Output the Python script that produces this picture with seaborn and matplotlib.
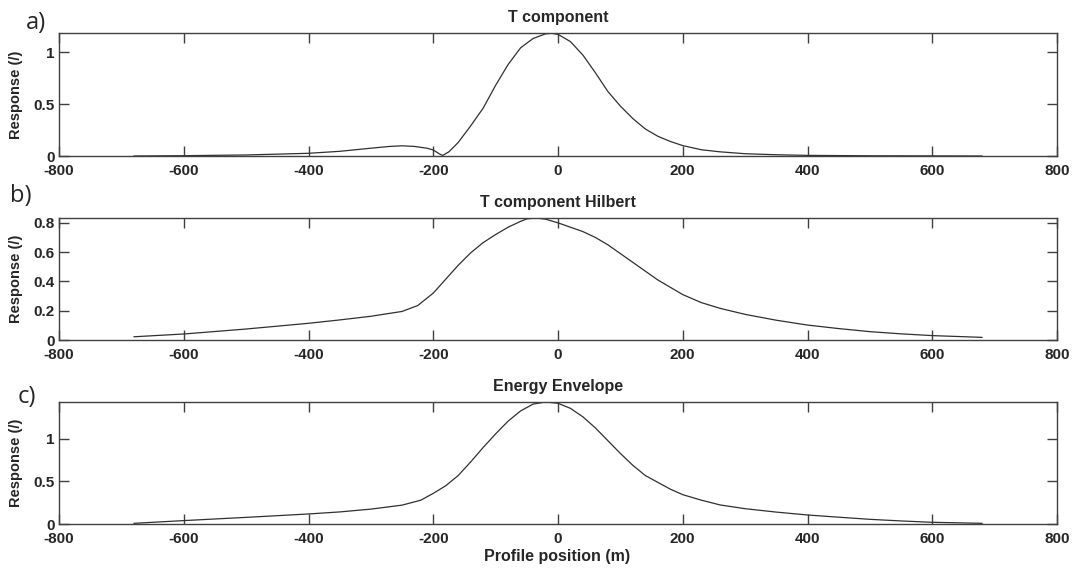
import matplotlib
matplotlib.use("Agg")
import matplotlib.pyplot as plt
import seaborn as sns
import numpy as np
from matplotlib.ticker import FuncFormatter

# ---------------- data ----------------
x_a = [-680, -600, -500, -400, -350, -300, -270, -250, -230, -210, -200, -190, -185,
       -175, -160, -140, -120, -100, -80, -60, -40, -20, -10, 0, 20, 40, 60, 80, 100,
       120, 140, 160, 180, 200, 230, 260, 300, 350, 400, 500, 600, 680]
y_a = [0.0, 0.003, 0.01, 0.026, 0.045, 0.075, 0.092, 0.098, 0.092, 0.075, 0.058, 0.02, 0.005,
       0.04, 0.13, 0.29, 0.46, 0.68, 0.88, 1.04, 1.13, 1.175, 1.18, 1.17, 1.10, 0.97, 0.80, 0.62, 0.48,
       0.36, 0.26, 0.19, 0.14, 0.10, 0.06, 0.04, 0.022, 0.012, 0.006, 0.002, 0.001, 0.0]

x_b = [-680, -600, -500, -400, -350, -300, -250, -225, -200, -180, -160, -140, -120, -100,
       -80, -60, -50, -35, -20, 0, 20, 40, 60, 80, 100, 120, 140, 160, 180, 200, 230,
       260, 300, 350, 400, 450, 500, 550, 600, 680]
y_b = [0.022, 0.041, 0.075, 0.114, 0.137, 0.162, 0.195, 0.235, 0.32, 0.415, 0.51, 0.595, 0.665, 0.72,
       0.77, 0.81, 0.827, 0.833, 0.825, 0.80, 0.77, 0.74, 0.70, 0.65, 0.59, 0.53, 0.47, 0.41, 0.36, 0.31, 0.255,
       0.216, 0.175, 0.135, 0.102, 0.078, 0.057, 0.042, 0.03, 0.018]

x_c = [-680, -600, -500, -400, -350, -300, -250, -220, -200, -180, -160, -140, -120, -100,
       -80, -60, -40, -20, 0, 20, 40, 60, 80, 100, 120, 140, 160, 180, 200, 230, 260,
       300, 350, 400, 450, 500, 550, 600, 680]
y_c = [0.008, 0.04, 0.078, 0.118, 0.142, 0.175, 0.222, 0.28, 0.36, 0.45, 0.57, 0.73, 0.90, 1.06,
       1.21, 1.33, 1.41, 1.435, 1.42, 1.36, 1.26, 1.13, 0.98, 0.83, 0.69, 0.57, 0.49, 0.41, 0.345, 0.28, 0.224,
       0.18, 0.14, 0.106, 0.08, 0.055, 0.036, 0.02, 0.008]

titles = ["T component", "T component Hilbert", "Energy Envelope"]
panel_tags = ["a)", "b)", "c)"]
x_ticks = [-800, -600, -400, -200, 0, 200, 400, 600, 800]
y_ticks = [[0, 0.5, 1], [0, 0.2, 0.4, 0.6, 0.8], [0, 0.5, 1]]
y_tops = [1.183, 0.833, 1.435]
y_label = "Response (/)"
x_label = "Profile position (m)"

# ---------------- style ----------------
sns.set_style("ticks")
plt.rcParams["font.family"] = ["Liberation Sans", "DejaVu Sans"]
plt.rcParams["font.weight"] = "bold"

W, H = 1073, 570
fig = plt.figure(figsize=(W / 100, H / 100), dpi=100)

boxes = [(33, 156), (218, 340), (402, 524)]
tag_pos = [(26, 23), (10, 196), (18, 397)]
left_px, right_px = 59, 1057
spine_col = "#404040"
line_col = "#303030"

series = [(x_a, y_a), (x_b, y_b), (x_c, y_c)]

fmt = FuncFormatter(lambda v, p: f"{v:g}")

for i, ((top, bot), (xs, ys)) in enumerate(zip(boxes, series)):
    ax = fig.add_axes([left_px / W, 1 - bot / H, (right_px - left_px) / W, (bot - top) / H])
    sns.lineplot(x=xs, y=ys, ax=ax, color=line_col, linewidth=0.9, sort=False)
    ax.set_xlim(-800, 800)
    ax.set_ylim(0, y_tops[i])
    ax.set_xticks(x_ticks)
    ax.set_yticks(y_ticks[i])
    ax.xaxis.set_major_formatter(fmt)
    ax.yaxis.set_major_formatter(fmt)
    ax.tick_params(direction="in", length=7, width=1, color=spine_col,
                   top=True, right=True, labelsize=11)
    ax.tick_params(axis="x", pad=5.5)
    ax.tick_params(axis="y", pad=3)
    for lab in ax.get_xticklabels() + ax.get_yticklabels():
        lab.set_fontweight("bold")
    for s in ax.spines.values():
        s.set_visible(True)
        s.set_color(spine_col)
        s.set_linewidth(1.0)
    ax.set_title(titles[i], fontsize=11.5, fontweight="bold", pad=8)
    ax.set_ylabel(y_label, fontsize=10.5, fontweight="bold")
    ax.yaxis.set_label_coords((23 - left_px) / (right_px - left_px), 0.5)
    ax.set_xlabel("")
    tx, ty = tag_pos[i]
    fig.text(tx / W, 1 - ty / H, panel_tags[i], fontsize=17, fontweight="normal",
             family=["Open Sans", "DejaVu Sans"], ha="left", va="center")

fig.text(557 / W, 1 - 556 / H, x_label, fontsize=11.5, fontweight="bold",
         ha="center", va="center")

fig.savefig("out.png", dpi=100)
